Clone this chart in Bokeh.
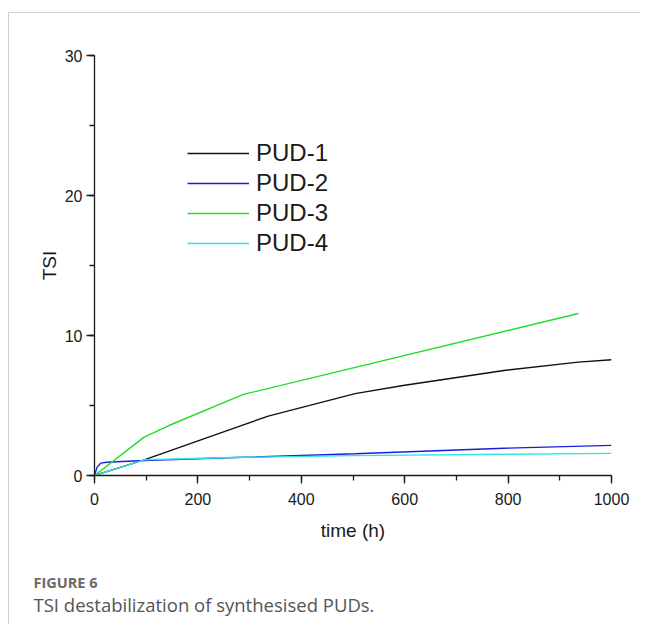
from bokeh.plotting import figure
from bokeh.models import Range1d, SingleIntervalTicker, Legend, LegendItem, Title
from bokeh.embed import file_html
from bokeh.resources import INLINE

# ---- data ----
pud1_t = [0, 96, 288, 336, 504, 600, 792, 936, 1000]
pud1_tsi = [0, 1.12, 3.62, 4.24, 5.85, 6.45, 7.5, 8.1, 8.27]

pud2_t = [0, 5, 12, 24, 96, 288, 504, 792, 1000]
pud2_tsi = [0, 0.6, 0.88, 0.95, 1.07, 1.3, 1.55, 1.95, 2.15]

pud3_t = [0, 96, 144, 288, 936]
pud3_tsi = [0, 2.74, 3.57, 5.79, 11.57]

pud4_t = [0, 96, 288, 504, 792, 1000]
pud4_tsi = [0, 1.12, 1.3, 1.42, 1.52, 1.58]

series_names = ["PUD-1", "PUD-2", "PUD-3", "PUD-4"]
series_colors = ["#111111", "#1c1cdc", "#22dd22", "#2ee6e6"]

x_ticks_interval = 200
y_ticks_interval = 10

p = figure(width=632, height=612, output_backend="svg", toolbar_location=None,
           x_range=Range1d(0, 1000), y_range=Range1d(0, 30),
           min_border_left=85, min_border_top=42, min_border_right=30,
           min_border_bottom=150)
p.styles = {"margin-left": "8px", "margin-top": "12px",
            "border-left": "1px solid #d2d2d2", "border-top": "1px solid #d2d2d2"}
p.outline_line_color = None
p.xgrid.visible = False
p.ygrid.visible = False
p.background_fill_color = "white"
p.border_fill_color = "white"

renderers = []
for t, v, c in zip([pud1_t, pud2_t, pud3_t, pud4_t],
                   [pud1_tsi, pud2_tsi, pud3_tsi, pud4_tsi], series_colors):
    renderers.append(p.line(t, v, line_color=c, line_width=1.4))

p.xaxis.ticker = SingleIntervalTicker(interval=x_ticks_interval, num_minor_ticks=2)
p.yaxis.ticker = SingleIntervalTicker(interval=y_ticks_interval, num_minor_ticks=2)

for ax in (p.xaxis[0], p.yaxis[0]):
    ax.axis_line_color = "#1a1a1a"
    ax.axis_line_width = 1.3
    ax.major_tick_line_color = "#1a1a1a"
    ax.minor_tick_line_color = "#1a1a1a"
    ax.major_tick_line_width = 1.3
    ax.minor_tick_line_width = 1.3
    ax.major_tick_in = 0
    ax.major_tick_out = 8
    ax.minor_tick_in = 0
    ax.minor_tick_out = 5
    ax.major_label_text_font = "Liberation Sans"
    ax.major_label_text_font_size = "16px"
    ax.major_label_text_color = "#1a1a1a"
    ax.axis_label_text_font = "Liberation Sans"
    ax.axis_label_text_font_size = "19px"
    ax.axis_label_text_font_style = "normal"
    ax.axis_label_text_color = "#1a1a1a"

p.xaxis.axis_label = "time (h)"
p.yaxis.axis_label = "TSI"
p.xaxis.major_label_standoff = 9
p.yaxis.major_label_standoff = 4
p.xaxis.axis_label_standoff = 12
p.yaxis.axis_label_standoff = 2

legend = Legend(items=[LegendItem(label=n, renderers=[r]) for n, r in zip(series_names, renderers)],
                location=(93, 217), label_text_font="Liberation Sans",
                label_text_font_size="24px", label_text_color="#1a1a1a",
                glyph_width=62, glyph_height=30, label_height=30, label_standoff=7,
                spacing=0, padding=0, margin=0, border_line_color=None,
                background_fill_alpha=0)
p.add_layout(legend)

# spacer between the axis and the caption block
p.add_layout(Title(text=" ", text_font_size="2px", standoff=21), "below")
p.add_layout(Title(text="FIGURE 6", align="left", offset=-61, standoff=4,
                   text_font="Open Sans", text_font_style="bold", text_font_size="14.5px",
                   text_color="#6a6a6a"), "below")
p.add_layout(Title(text="TSI destabilization of synthesised PUDs.", align="left",
                   offset=-61, standoff=-8, text_font="Open Sans", text_font_style="normal",
                   text_font_size="18.5px", text_color="#555555"), "below")

open("out.html", "w").write(file_html(p, INLINE))
